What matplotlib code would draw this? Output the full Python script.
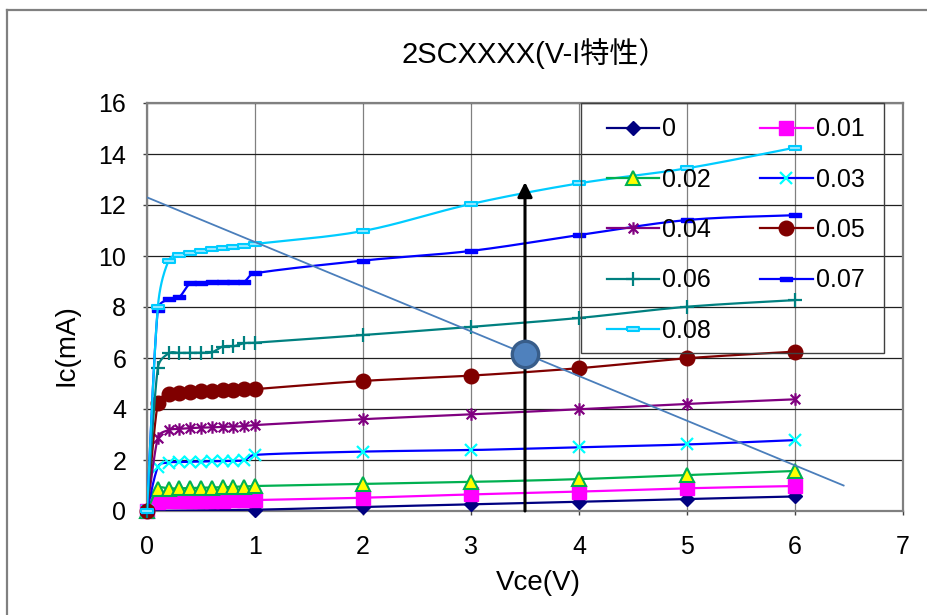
import numpy as np
import matplotlib
matplotlib.use("Agg")
import matplotlib.pyplot as plt
from matplotlib.path import Path
from matplotlib.lines import Line2D
from matplotlib.patches import Rectangle

plt.rcParams['font.family'] = ['Liberation Sans', 'Noto Sans CJK JP', 'DejaVu Sans']

# ---- measured collector characteristics (Vce in V, Ic in mA), one list per base current ----
vce = [0, 0.1, 0.2, 0.3, 0.4, 0.5, 0.6, 0.7, 0.8, 0.9, 1, 2, 3, 4, 5, 6]
vce_b0 = [0, 1, 2, 3, 4, 5, 6]

ic_b000 = [0, 0.05, 0.16, 0.26, 0.36, 0.47, 0.57]
ic_b001 = [0, 0.35, 0.38, 0.39, 0.40, 0.40, 0.41, 0.41, 0.42, 0.42, 0.43, 0.52, 0.65, 0.76, 0.89, 0.98]
ic_b002 = [0, 0.86, 0.88, 0.89, 0.90, 0.91, 0.92, 0.93, 0.95, 0.96, 0.98, 1.06, 1.14, 1.25, 1.41, 1.57]
ic_b003 = [0, 1.72, 1.90, 1.92, 1.93, 1.94, 1.95, 1.96, 1.97, 1.99, 2.20, 2.33, 2.39, 2.50, 2.61, 2.78]
ic_b004 = [0, 2.86, 3.17, 3.22, 3.25, 3.27, 3.28, 3.30, 3.31, 3.33, 3.37, 3.60, 3.79, 3.99, 4.20, 4.38]
ic_b005 = [0, 4.22, 4.60, 4.63, 4.66, 4.70, 4.72, 4.74, 4.76, 4.77, 4.78, 5.10, 5.31, 5.60, 5.99, 6.25]
ic_b006 = [0, 5.60, 6.18, 6.20, 6.20, 6.21, 6.22, 6.45, 6.46, 6.58, 6.60, 6.90, 7.22, 7.57, 8.01, 8.27]
ic_b007 = [0, 7.90, 8.31, 8.40, 8.93, 8.96, 8.97, 8.98, 8.99, 9.00, 9.32, 9.82, 10.20, 10.82, 11.41, 11.60]
ic_b008 = [0, 7.99, 9.82, 10.04, 10.13, 10.21, 10.26, 10.30, 10.34, 10.39, 10.47, 10.98, 12.04, 12.85, 13.44, 14.25]

series_labels = ['0', '0.01', '0.02', '0.03', '0.04', '0.05', '0.06', '0.07', '0.08']

# load line and operating point
load_vce = [0, 6.45]
load_ic = [12.3, 1.0]
op_vce = 3.5
op_ic = 6.17
arrow_top = 12.9

x_ticks = [0, 1, 2, 3, 4, 5, 6, 7]
y_ticks = [0, 2, 4, 6, 8, 10, 12, 14, 16]

title_text = '2SCXXXX(V-I特性）'
xlabel_text = 'Vce(V)'
ylabel_text = 'Ic(mA)'

# ---- marker shapes ----
star_path = Path([(-1, -1), (1, 1), (-1, 1), (1, -1), (0, -1.3), (0, 1.3)],
                 [Path.MOVETO, Path.LINETO, Path.MOVETO, Path.LINETO, Path.MOVETO, Path.LINETO])
dash_verts = [(-1, -0.38), (1, -0.38), (1, 0.38), (-1, 0.38), (-1, -0.38)]

styles = [
    dict(color='#000080', marker='D', ms=7.5, mfc='#000080', mec='#000080', mew=1),
    dict(color='#FF00FF', marker='s', ms=9.5, mfc='#FF00FF', mec='#FF00FF', mew=1),
    dict(color='#00B050', marker='^', ms=9.5, mfc='#FFFF00', mec='#00B050', mew=1.5),
    dict(color='#0000FF', marker='x', ms=9, mfc='#00FFFF', mec='#00FFFF', mew=1.6),
    dict(color='#800080', marker=star_path, ms=9, mfc='#800080', mec='#800080', mew=1.6),
    dict(color='#800000', marker='o', ms=10.5, mfc='#800000', mec='#800000', mew=1),
    dict(color='#008080', marker='+', ms=10, mfc='#008080', mec='#008080', mew=1.6),
    dict(color='#0000FF', marker=dash_verts, ms=8, mfc='#0000FF', mec='#0000FF', mew=1),
    dict(color='#00CCFF', marker=dash_verts, ms=9, mfc='#99E8FF', mec='#00CCFF', mew=1.5),
]
series = [
    (vce_b0, ic_b000), (vce, ic_b001), (vce, ic_b002), (vce, ic_b003), (vce, ic_b004),
    (vce, ic_b005), (vce, ic_b006), (vce, ic_b007), (vce, ic_b008),
]

W, H, DPI = 928, 615, 100
fig = plt.figure(figsize=(W / DPI, H / DPI), dpi=DPI)
fig.patch.set_facecolor('white')

# chart-area border (left and top edges visible)
fig.add_artist(Line2D([7 / W, 7 / W], [0, 1 - 10 / H], transform=fig.transFigure,
                      color='#808080', lw=1.6))
fig.add_artist(Line2D([7 / W, 1], [1 - 10 / H, 1 - 10 / H], transform=fig.transFigure,
                      color='#808080', lw=1.6))

left, right, top, bottom = 147, 903, 103, 511
ax = fig.add_axes([left / W, 1 - bottom / H, (right - left) / W, (bottom - top) / H])
ax.set_xlim(0, 7)
ax.set_ylim(0, 16)
ax.set_xticks(x_ticks)
ax.set_yticks(y_ticks)
ax.set_xticklabels([str(t) for t in x_ticks])
ax.set_yticklabels([str(t) for t in y_ticks])
ax.tick_params(axis='both', direction='out', length=3, width=1, color='#404040',
               labelsize=18, labelcolor='black')
ax.tick_params(axis='x', pad=14)
ax.tick_params(axis='y', pad=12)
for sp in ax.spines.values():
    sp.set_color('#808080')
    sp.set_linewidth(1.6)
ax.set_axisbelow(True)
ax.yaxis.grid(True, color='#202020', lw=0.9)
ax.xaxis.grid(True, color='#808080', lw=0.9)


def smooth_curve(xs, ys, steps=30):
    """Cubic Bezier smoothing in display space, like a spreadsheet 'smoothed line'."""
    pts = ax.transData.transform(np.column_stack([xs, ys]))
    n = len(pts)
    out = [pts[0]]
    t = np.linspace(0, 1, steps)[1:, None]
    for i in range(n - 1):
        p0 = pts[i - 1] if i > 0 else pts[i]
        p1 = pts[i]
        p2 = pts[i + 1]
        p3 = pts[i + 2] if i + 2 < n else pts[i + 1]
        seg_len = np.hypot(*(p2 - p1))
        d1 = (p2 - p0) / 6.0
        d2 = (p3 - p1) / 6.0
        for d in (d1, d2):
            L = np.hypot(*d)
            if L > 0.5 * seg_len and L > 0:
                d *= 0.5 * seg_len / L
        c1 = p1 + d1
        c2 = p2 - d2
        seg = (1 - t) ** 3 * p1 + 3 * (1 - t) ** 2 * t * c1 + 3 * (1 - t) * t ** 2 * c2 + t ** 3 * p2
        out.extend(seg)
    return ax.transData.inverted().transform(np.array(out))


handles = []
for k, ((xs, ys), st) in enumerate(zip(series, styles)):
    curve = smooth_curve(xs, ys)
    ax.plot(curve[:, 0], curve[:, 1], color=st['color'], lw=1.6, zorder=3 + k * 0.1,
            solid_capstyle='round')
    ax.plot(xs, ys, linestyle='none', marker=st['marker'], ms=st['ms'], mfc=st['mfc'],
            mec=st['mec'], mew=st['mew'], zorder=3.05 + k * 0.1, clip_on=False)
    handles.append(Line2D([], [], color=st['color'], lw=1.6, marker=st['marker'], ms=st['ms'],
                          mfc=st['mfc'], mec=st['mec'], mew=st['mew']))

# load line, operating point and arrow
ax.plot(load_vce, load_ic, color='#4A7EBB', lw=1.3, zorder=4.2)
ax.annotate('', xy=(op_vce, arrow_top), xytext=(op_vce, 0),
            arrowprops=dict(arrowstyle='-|>', lw=2.2, color='black', mutation_scale=22,
                            shrinkA=0, shrinkB=0), zorder=4.3)
ax.plot([op_vce], [op_ic], linestyle='none', marker='o', ms=19, mfc='#4F81BD',
        mec='#385D8A', mew=2.4, zorder=4.4)

# legend box (transparent) and its entries in row-major order over two columns
fig.add_artist(Rectangle((581 / W, 1 - 353 / H), (884 - 581) / W, (353 - 103) / H,
                         transform=fig.transFigure, fill=False, edgecolor='#404040',
                         lw=1.0, zorder=5))
order = [0, 2, 4, 6, 8, 1, 3, 5, 7]
leg = ax.legend([handles[i] for i in order], [series_labels[i] for i in order],
                ncol=2, loc='upper left', bbox_to_anchor=(607 / W, 1 - 117.5 / H),
                bbox_transform=fig.transFigure, borderaxespad=0, borderpad=0, fontsize=18,
                handlelength=2.1, handletextpad=0.12, columnspacing=1.95,
                labelspacing=1.05, frameon=False)
leg.set_zorder(5)

fig.text(535 / W, 1 - 54 / H, title_text, ha='center', va='center', fontsize=21)
fig.text(538 / W, 1 - 583 / H, xlabel_text, ha='center', va='center', fontsize=20)
fig.text(67 / W, 1 - 345 / H, ylabel_text, ha='center', va='center', fontsize=20,
         rotation=90)

fig.savefig('out.png', dpi=DPI, facecolor='white')
